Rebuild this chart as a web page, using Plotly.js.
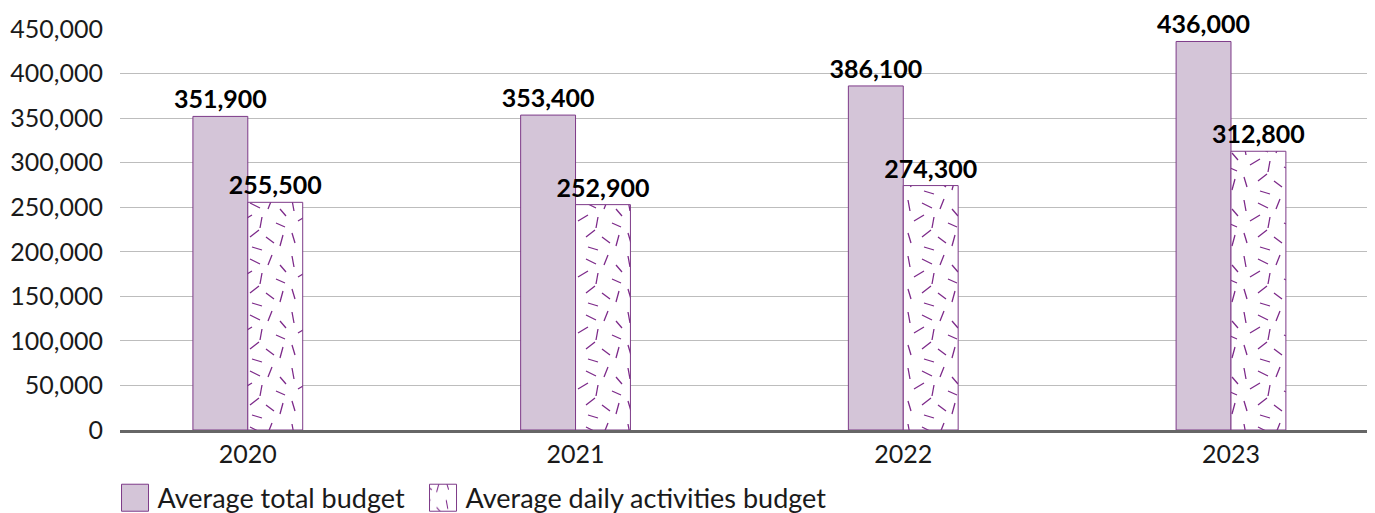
<!DOCTYPE html>
<html>
<head>
<meta charset="utf-8">
<script src="https://cdn.plot.ly/plotly-3.0.1.min.js"></script>
<style>html,body{margin:0;padding:0;background:#fff;}#chart{width:1375px;height:513px;}</style>
</head>
<body>
<div id="chart"></div>
<script>
const years = ["2020", "2021", "2022", "2023"];
const totalBudget = [351900, 353400, 386100, 436000];
const dailyBudget = [255500, 252900, 274300, 312800];
const seriesNames = ["Average total budget", "Average daily activities budget"];
const yTicks = [0, 50000, 100000, 150000, 200000, 250000, 300000, 350000, 400000, 450000];

const FONT = "Lato, 'Open Sans', sans-serif";
const PURPLE = "#7d3a88";
const fmt = v => v.toLocaleString("en-US");

const traces = [
  {
    type: "bar", name: seriesNames[0], x: years, y: totalBudget,
    marker: {color: "#d4c5d8", line: {color: PURPLE, width: 1}},
    text: totalBudget.map(fmt), textposition: "outside", cliponaxis: false, constraintext: "none",
    textfont: {family: FONT, size: 25, color: "#000", weight: "bold"},
    hoverinfo: "none"
  },
  {
    type: "bar", name: seriesNames[1], x: years, y: dailyBudget,
    marker: {color: "#ffffff", line: {color: PURPLE, width: 1},
      pattern: {shape: "/", fgcolor: "#7d2a8a", bgcolor: "#ffffff", size: 18, solidity: 0.08}},
    text: dailyBudget.map(fmt), textposition: "outside", cliponaxis: false, constraintext: "none",
    textfont: {family: FONT, size: 25, color: "#000", weight: "bold"},
    hoverinfo: "none"
  }
];

const layout = {
  width: 1375, height: 513,
  margin: {l: 120, r: 8, t: 29, b: 83, autoexpand: false},
  paper_bgcolor: "#fff", plot_bgcolor: "#fff",
  font: {family: FONT, size: 25, color: "#1a1a1a"},
  barmode: "group", bargap: 0.665, bargroupgap: 0,
  showlegend: true,
  legend: {orientation: "h", x: -0.006, xanchor: "left", y: -0.17, yanchor: "middle",
    bgcolor: "rgba(0,0,0,0)",
    font: {family: FONT, size: 27, color: "#1a1a1a"}, itemwidth: 35, entrywidth: 258,
    entrywidthmode: "pixels", tracegroupgap: 0},
  xaxis: {type: "category", range: [-0.39, 3.415], showgrid: false, zeroline: false,
    showline: true, linecolor: "#666", linewidth: 3, ticks: "",
    tickfont: {family: FONT, size: 25, color: "#1a1a1a"}},
  yaxis: {range: [0, 450000], tickvals: yTicks, ticktext: yTicks.map(fmt),
    showgrid: true, gridcolor: "#bdbdbd", gridwidth: 1, zeroline: false, showline: false,
    ticks: "", ticklabelstandoff: 16, tickfont: {family: FONT, size: 25, color: "#1a1a1a"}}
};

// hand-drawn scattered-dash texture (decoration only)
const DASH_TILE = 56;
const DASHES = "M4,3l2,11 M18,6l10,5 M40,2l-4,10 M48,12l6,7 M10,24l10,-6 M30,20l-2,11 " +
  "M44,26l9,4 M4,36l3,10 M18,40l9,-7 M34,40l8,6 M51,38l-3,11 M20,50l10,3";

Plotly.newPlot("chart", traces, layout, {displayModeBar: false, staticPlot: true}).then(gd => {
  const NS = "http://www.w3.org/2000/svg";
  gd.querySelectorAll("pattern").forEach(p => {
    p.setAttribute("width", DASH_TILE);
    p.setAttribute("height", DASH_TILE);
    while (p.firstChild) p.removeChild(p.firstChild);
    const r = document.createElementNS(NS, "rect");
    r.setAttribute("width", DASH_TILE); r.setAttribute("height", DASH_TILE);
    r.setAttribute("fill", "#ffffff");
    const path = document.createElementNS(NS, "path");
    path.setAttribute("d", DASHES);
    path.setAttribute("stroke", "#7d2a8a"); path.setAttribute("stroke-width", "1.3");
    path.setAttribute("fill", "none");
    p.appendChild(r); p.appendChild(path);
  });
  gd.querySelectorAll(".legend .legendpoints path").forEach(pt => {
    pt.setAttribute("d", "M13.5,13.5H-13.5V-13.5H13.5Z");
  });
  gd.querySelectorAll(".legend [clip-path]").forEach(el => el.removeAttribute("clip-path"));
});
</script>
</body>
</html>
